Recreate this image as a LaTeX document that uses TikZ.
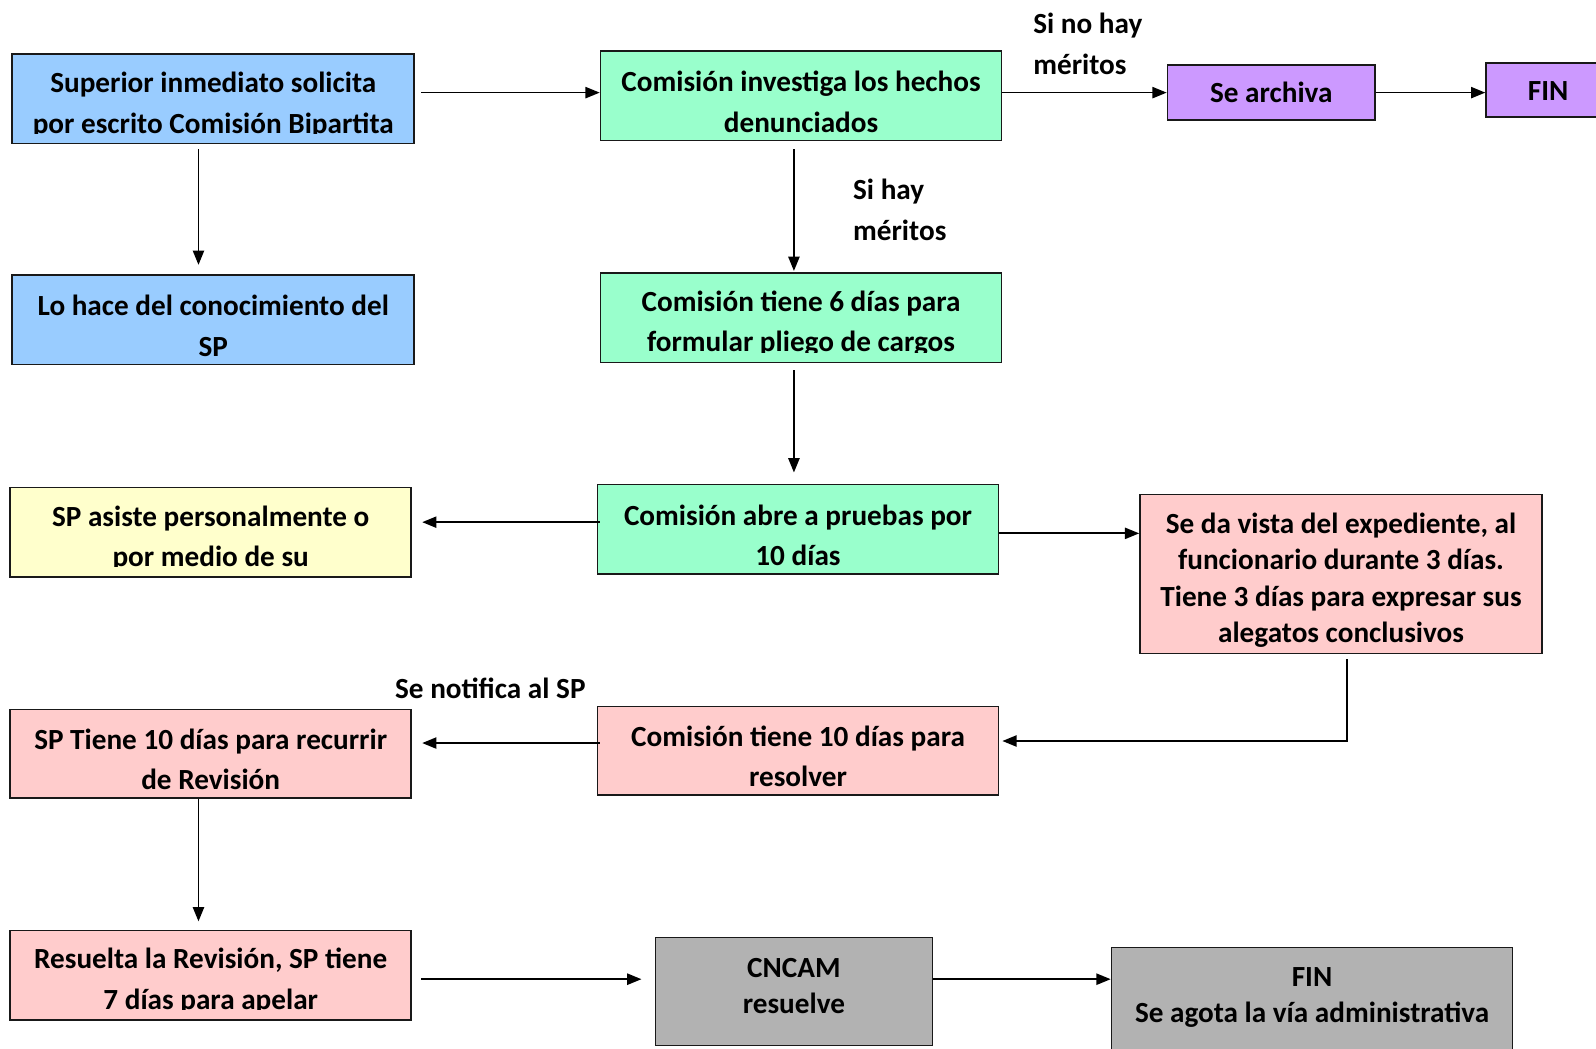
\documentclass[tikz,border=0pt]{standalone}
\usepackage{fontspec}
\setmainfont{Carlito}
\usetikzlibrary{arrows.meta}
\definecolor{cblue}{HTML}{99CCFF}
\definecolor{cgreen}{HTML}{99FFCC}
\definecolor{cpurple}{HTML}{CC99FF}
\definecolor{cyellow}{HTML}{FFFFCC}
\definecolor{cpink}{HTML}{FFCCCC}
\definecolor{cgray}{HTML}{B2B2B2}
\begin{document}
\begin{tikzpicture}[x=1pt,y=-1pt,
  box/.style={draw=black!90, line width=1.6pt, inner sep=0pt},
  txt/.style={font=\bfseries\fontsize{28.7}{40}\selectfont, align=center, inner sep=0pt},
  txtb/.style={font=\bfseries\fontsize{28.7}{35.5}\selectfont, align=center, inner sep=0pt},
  one/.style={text height=21.5pt, text depth=7.2pt},
  arr/.style={-{Triangle[length=14pt,width=11pt]}, line width=1.7pt}]
\clip (0,0) rectangle (1568,1030);
\fill[white] (0,0) rectangle (1568,1030);

% boxes
\node[box, fill=cblue, minimum width=395pt, minimum height=88pt] (b1) at (209.5,97) {};
\begin{scope}
\clip (10,53) rectangle (410,131);
\node[txt] (t1) at (209.5,103) {Superior inmediato solicita\\por escrito Comisión Bipartita};
\end{scope}
\node[box, fill=cblue, minimum width=395pt, minimum height=88pt] (b2) at (209.5,314) {};
\node[txt] (t2) at (209.5,320) {Lo hace del conocimiento del\\SP};

\node[box, fill=cgreen, minimum width=394pt, minimum height=88pt] (b3) at (787,94) {};
\node[txt] (t3) at (787,100) {Comisión investiga los hechos\\denunciados};
\node[box, fill=cpurple, minimum width=204pt, minimum height=54pt] (b4) at (1249,91) {};
\node[txt, one] (t4) at (1249,94) {Se archiva};
\node[box, fill=cpurple, minimum width=122pt, minimum height=53pt] (b5) at (1521,88.5) {};
\node[txt, one] (t5) at (1521,92) {FIN};

\node[box, fill=cgreen, minimum width=394pt, minimum height=88pt] (b6) at (787,312) {};
\begin{scope}
\clip (588,268) rectangle (986,346);
\node[txt] (t6) at (787,318) {Comisión tiene 6 días para\\formular pliego de cargos};
\end{scope}

\node[box, fill=cyellow, minimum width=394pt, minimum height=88pt] (b7) at (207,523) {};
\begin{scope}
\clip (8,479) rectangle (406,557);
\node[txt] (t7) at (207,529) {SP asiste personalmente o\\por medio de su};
\end{scope}
\node[box, fill=cgreen, minimum width=394pt, minimum height=88pt] (b8) at (784,520) {};
\node[txt] (t8) at (784,526) {Comisión abre a pruebas por\\10 días};
\node[box, fill=cpink, minimum width=395pt, minimum height=156pt] (b9) at (1317.5,564) {};
\node[txtb] (t9) at (1317.5,570) {Se da vista del expediente, al\\funcionario durante 3 días.\\Tiene 3 días para expresar sus\\alegatos conclusivos};

\node[box, fill=cpink, minimum width=394pt, minimum height=87pt] (b10) at (207,740.5) {};
\node[txt] (t10) at (207,746) {SP Tiene 10 días para recurrir\\de Revisión};
\node[box, fill=cpink, minimum width=394pt, minimum height=87pt] (b11) at (784,737.5) {};
\node[txt] (t11) at (784,743) {Comisión tiene 10 días para\\resolver};

\node[box, fill=cpink, minimum width=394pt, minimum height=88pt] (b12) at (207,958) {};
\begin{scope}
\clip (8,914) rectangle (406,992);
\node[txt] (t12) at (207,964) {Resuelta la Revisión, SP tiene\\7 días para apelar};
\end{scope}
\node[box, fill=cgray, minimum width=272pt, minimum height=106pt] (b13) at (780,974) {};
\node[txtb] (t13) at (780,968.5) {CNCAM\\resuelve};
\node[box, fill=cgray, minimum width=394pt, minimum height=134pt] (b14) at (1289,998) {};
\node[txtb] (t14) at (1289,980) {FIN\\Se agota la vía administrativa};

% labels
\node[txt, align=left, anchor=west] (l1) at (1015,43) {Si no hay\\méritos};
\node[txt, align=left, anchor=west] (l2) at (838,206) {Si hay\\méritos};
\node[txt, one, anchor=west] (l3) at (388,679) {Se notifica al SP};

% connectors
\draw[arr] ([xshift=6pt,yshift=6pt]b1.east) -- ([yshift=3pt]b3.west);
\draw[arr] ([xshift=-14.5pt,yshift=-5pt]b1.south) -- ([xshift=-14.5pt,yshift=9pt]b2.north);
\draw[arr] ([yshift=3pt]b3.east) -- (b4.west);
\draw[arr] (b4.east) -- ([yshift=-2.5pt]b5.west);
\draw[arr] ([xshift=-7pt,yshift=-8pt]b3.south) -- ([xshift=-7pt,yshift=1pt]b6.north);
\draw[arr] ([xshift=-7pt,yshift=-7pt]b6.south) -- ([xshift=-4pt,yshift=11pt]b8.north);
\draw[arr] ([xshift=3pt,yshift=7pt]b8.west) -- ([xshift=10pt,yshift=10pt]b7.east);
\draw[arr] ([yshift=-4pt]b8.east) -- ([yshift=40pt]b9.west);
\draw[arr] ([xshift=5.5pt,yshift=-5pt]b9.south) |- ([xshift=3pt,yshift=9.5pt]b11.east);
\draw[arr] ([xshift=3pt,yshift=7.5pt]b11.west) -- ([xshift=10pt,yshift=10.5pt]b10.east);
\draw[arr] ([xshift=-12pt]b10.south) -- ([xshift=-12pt,yshift=8pt]b12.north);
\draw[arr] ([xshift=9pt,yshift=-4pt]b12.east) -- ([xshift=-13pt,yshift=12pt]b13.west);
\draw[arr] ([yshift=12pt]b13.east) -- ([yshift=36pt]b14.west);
\end{tikzpicture}
\end{document}
